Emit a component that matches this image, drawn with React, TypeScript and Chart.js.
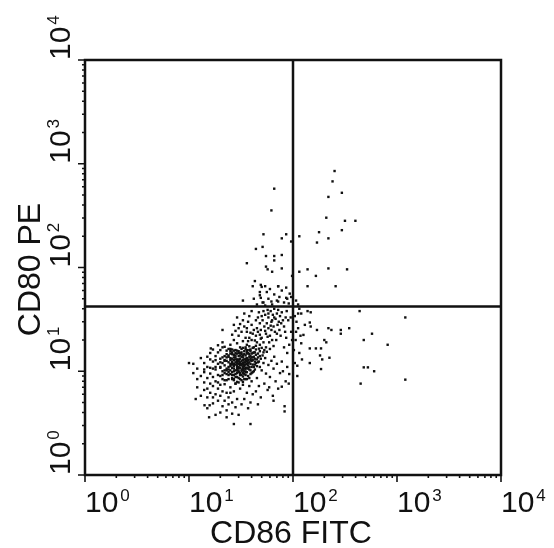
import React, { useEffect, useRef } from "react";
import { Chart, registerables } from "chart.js";

Chart.register(...registerables);

// ---- axis definition ----
const decadeExponents = [0, 1, 2, 3, 4];
const minorSteps = [2, 3, 4, 5, 6, 7, 8, 9];
const axisMin = 1;
const axisMax = 10000;
const xTitle = "CD86 FITC";
const yTitle = "CD80 PE";

// quadrant gate thresholds (CD86, CD80)
const gateCD86 = 100;
const gateCD80 = 42;

// ---- events [CD86 FITC, CD80 PE] ----
const upperLeftEvents: [number, number][] = [
  [66, 575], [62, 355], [96, 178], [86, 209], [78, 191], [52, 209], [51, 158], [44, 151],
  [36, 110], [55, 129], [66, 129], [78, 132], [66, 117], [55, 102], [57, 96], [63, 91],
  [78, 98], [98, 83], [43, 74], [41, 66], [49, 68], [54, 66], [48, 58], [72, 66],
  [33, 48], [49, 51], [51, 46], [62, 47], [72, 47], [86, 51], [96, 52], [45, 44],
  [52, 46], [58, 50], [63, 44], [70, 48], [48, 54], [56, 58], [66, 55], [74, 52],
  [82, 46], [88, 50], [93, 56], [60, 62], [50, 65], [78, 60], [42, 50], [86, 64],
  [72, 66], [54, 43], [91, 45],
];

const upperRightEvents: [number, number][] = [
  [251, 851], [240, 676], [295, 525], [219, 479], [209, 302], [316, 282], [398, 282],
  [295, 229], [178, 219], [219, 191], [170, 174], [115, 200], [115, 91], [138, 96],
  [166, 83], [219, 98], [331, 96], [138, 66], [257, 66], [107, 48], [112, 44],
];

const lowerRightEvents: [number, number][] = [
  [115, 40], [138, 38], [148, 37], [437, 38], [1202, 33], [112, 36], [120, 36], [145, 29.5],
  [148, 27], [170, 25], [219, 26], [234, 25], [288, 25], [288, 23], [347, 26], [479, 20],
  [575, 23], [813, 18], [126, 22.4], [120, 18.6], [200, 20], [209, 19], [145, 16.6],
  [166, 16.6], [186, 16.6], [182, 14.2], [191, 13], [224, 13.5], [186, 10.5], [145, 12],
  [110, 11.3], [479, 10.9], [525, 10.9], [603, 10], [1202, 8.3], [447, 7.6], [104, 34],
  [108, 30], [112, 26], [118, 22], [106, 20], [115, 15], [122, 13], [104, 12], [110, 9],
  [130, 28], [102, 16], [107, 24],
];

const lowerLeftSparse: [number, number][] = [
  [91, 7.6], [78, 7.1], [83, 4.6], [83, 4.1], [65, 5.2], [39, 3.1], [27, 3.1], [15.6, 3.6],
  [11.6, 5.4], [14.1, 4.7], [15.8, 4.7], [10, 12], [21, 25], [16.2, 16.6],
  [92, 18], [96, 24], [88, 15], [95, 33], [98, 20], [82, 17], [86, 21],
];

const lowerLeftCore: [number, number][] = [
  [31, 11.5], [29, 11], [33, 12], [30, 12.4], [27, 10.6], [34, 11.2], [32, 10.4], [28, 12.2],
  [35, 12.8], [30, 10], [26, 11.6], [29, 13], [33, 13.6], [36, 11.8], [31, 9.6], [25, 10.2],
  [37, 13], [28, 9.4], [34, 10], [30, 14], [24, 11], [38, 12.2], [32, 14.6], [27, 12.8],
  [35, 9.2], [29, 8.8], [39, 14], [26, 9.8], [33, 8.9], [36, 14.8], [23, 10.6], [40, 12.6],
  [31, 13.2], [28, 11.6], [34, 13], [30, 11], [32, 12.6], [26, 12.4], [37, 10.6], [29, 10.2],
  [35, 14.2], [24, 12.2], [41, 13.6], [27, 9.2], [33, 11], [38, 11], [30, 8.6], [25, 13.4],
  [36, 9.8], [31, 15], [42, 15.2], [28, 14.2], [34, 15.6], [23, 9.4], [39, 10.2], [32, 9.2],
  [26, 14.6], [44, 14.4], [29, 12], [33, 12.8], [35, 11.6], [27, 11.2], [31, 10.8], [37, 12],
  [30, 13], [28, 10.2], [34, 12.2], [32, 11.4], [36, 13.4], [25, 11.8], [40, 11], [29, 14.8],
  [43, 12.4], [22, 11.4], [33, 10.2], [38, 13.8], [27, 13.6], [35, 10.4], [30, 9.8], [31, 12.2],
  [45, 13], [24, 9.8], [36, 12.6], [28, 13], [32, 13.8], [26, 10.8], [39, 12.8], [34, 11.6],
  [29, 9.6], [37, 15], [30, 11.8], [33, 14.2], [27, 10], [35, 13.2], [41, 11.6], [25, 12.8],
  [31, 14.2], [38, 10.4], [28, 8.8], [34, 9.4], [42, 13.8], [23, 12.6], [36, 10.8], [30, 12.8],
  [32, 10], [29, 11.4], [26, 13.2], [40, 14.8], [33, 9.6], [35, 12.2],
];

const lowerLeftCoreRing: [number, number][] = [
  [21, 9.2], [23, 8.2], [25, 14.8], [27, 15.8], [24, 13.8], [22, 12.6], [20, 12.2], [26, 8.4],
  [28, 7.6], [30, 7.8], [32, 8.2], [34, 8.4], [37, 9], [39, 9.4], [41, 9.8], [43, 10.4],
  [45, 11.2], [47, 12.4], [49, 13.2], [46, 14.8], [44, 16.2], [41, 16.8], [38, 17.4], [35, 17],
  [32, 16.4], [29, 15.8], [26, 16.2], [23, 14.6], [21, 13.6], [22, 10.2], [24, 9.2], [27, 8.4],
  [29, 7.9], [31, 8.4], [33, 7.9], [36, 8.4], [38, 8.6], [40, 9.6], [42, 11], [44, 12],
  [46, 13.6], [48, 15.6], [50, 16.8], [52, 15.2], [39, 16.2], [36, 16], [33, 16.8], [30, 15.6],
  [28, 15], [25, 15.6], [27, 14.4], [24, 10.4], [26, 9.2], [29, 10.6], [31, 9.2], [33, 10.6],
  [35, 9.8], [37, 11.4], [39, 11.8], [41, 12.8], [43, 13.2], [40, 13.6], [38, 14.6], [36, 15.4],
  [34, 14.6], [32, 15.2], [30, 15], [28, 13.6], [26, 12], [25, 11.2], [27, 11.8], [29, 12.6],
  [31, 11.8], [33, 11.6], [35, 10.8], [37, 12.8], [39, 13.2], [34, 10.6], [32, 11.8], [30, 10.6],
];

const lowerLeftBand: [number, number][] = [
  [38, 16], [42, 17], [36, 18], [45, 19], [40, 20], [48, 18], [44, 22], [39, 15.6],
  [50, 21], [46, 24], [52, 19], [41, 23], [55, 23], [47, 16.5], [58, 26], [43, 19.8],
  [53, 27], [49, 25], [60, 22], [56, 29], [62, 30], [45, 26], [51, 31], [65, 27],
  [58, 33], [48, 29], [64, 35], [54, 35], [68, 32], [61, 38], [70, 36], [57, 39],
  [66, 40], [73, 30], [50, 34], [47, 37], [62, 25], [75, 34], [44, 31], [59, 19],
  [67, 24], [71, 28], [53, 16], [78, 37], [63, 20], [80, 31], [38, 21], [42, 25],
  [40, 28], [36, 24], [46, 33], [55, 17], [60, 16.4], [69, 20], [74, 25], [82, 27],
  [76, 22], [85, 33], [52, 38], [65, 17.5], [57, 21.5], [49, 20.6], [43, 15.2], [37, 19.5],
  [41, 15], [54, 24.5], [61, 27.5], [66, 33], [72, 39], [58, 36], [48, 22.5], [44, 17.6],
  [39, 23.5], [35, 21], [63, 31], [70, 23], [77, 29], [87, 38], [90, 31], [84, 24],
  [28, 16], [25, 18], [31, 17], [27, 20], [33, 19.5], [30, 22], [24, 16.4], [35, 16.4],
  [29, 18.6], [32, 24], [26, 22.5], [34, 27], [22, 17.2], [30, 26], [37, 30], [28, 24.5],
  [33, 31], [21, 19], [36, 26], [31, 28.5], [38, 34], [34, 36], [29, 33], [40, 38], [27, 28],
];

const lowerLeftTail: [number, number][] = [
  [20, 9], [18, 8], [22, 7.5], [16, 9.5], [24, 8.4], [19, 6.8], [21, 10], [17, 7.2],
  [23, 6.2], [15, 8.6], [25, 7], [20, 5.8], [18, 10.4], [14, 7.8], [22, 9.6], [26, 8.6],
  [19, 5.2], [16, 6.2], [24, 5.6], [21, 4.6], [13, 9], [17, 4.9], [23, 4.2], [15, 5.6],
  [20, 7.4], [27, 6.4], [12, 7], [18, 6], [26, 5], [14, 6.6], [22, 8.2], [16, 10.8],
  [25, 9.4], [19, 9.2], [21, 6.4], [13, 5.8], [17, 8.8], [24, 4.8], [28, 7.6], [15, 4.4],
  [20, 4], [23, 3.6], [18, 3.8], [12, 8.4], [26, 3.9], [22, 5.2], [14, 9.8], [27, 8.2],
  [19, 7.8], [16, 7.6], [25, 6.2], [11, 9.6], [21, 8.4], [17, 5.6], [29, 5.4], [23, 10.2],
  [20, 10.8], [15, 6.8], [28, 4.5], [30, 3.8],
  [42, 10], [48, 11], [45, 8.6], [52, 12], [40, 8], [55, 9.5], [47, 7.2], [50, 10.2],
  [58, 11.5], [44, 6.4], [60, 8.8], [53, 7.6], [65, 10.6], [46, 12.2], [57, 6.6], [62, 12.6],
  [41, 6], [68, 8], [49, 5.6], [70, 11.8], [54, 13.4], [43, 11.6], [75, 9.6], [59, 7],
  [64, 5.8], [38, 7.2], [36, 6.2], [33, 7.4], [34, 5.4], [39, 5], [31, 6.8], [37, 4.4],
  [32, 4.8], [35, 8.4], [46, 4.8], [72, 6.8], [80, 10], [85, 8], [78, 12.4], [88, 11],
  [92, 9.4], [66, 13.8], [51, 14.2], [56, 15.4], [48, 14],
  [19, 11.8], [17, 12.4], [20, 13.2], [15, 11], [18, 14], [16, 13], [21, 12], [14, 12],
  [19, 15.2], [12, 10.6], [17, 10.6], [20, 16], [13, 13.4], [22, 14], [16, 15], [18, 11],
  [11, 11.8], [21, 17], [15, 13.8], [23, 15.8], [19, 17.8], [14, 10.4], [24, 14.2], [17, 16.2],
  [22, 12.8], [25, 16.4], [26, 15.2], [20, 11], [18, 12.8], [23, 13.6],
];

const FONT = '"Liberation Sans", Arial, Helvetica, sans-serif';
const INK = "#111111";

function drawPower(ctx: CanvasRenderingContext2D, exp: number) {
  ctx.font = `30px ${FONT}`;
  ctx.textAlign = "left";
  ctx.textBaseline = "alphabetic";
  ctx.fillText("10", 0, 0);
  const w = ctx.measureText("10").width;
  ctx.font = `17px ${FONT}`;
  ctx.fillText(String(exp), w + 2, -11);
}

const flowAxesPlugin = {
  id: "flowAxes",
  afterDatasetsDraw(chart: any) {
    const { ctx, chartArea: a, scales } = chart;
    const x = scales.x;
    const y = scales.y;
    ctx.save();
    ctx.strokeStyle = INK;
    ctx.fillStyle = INK;

    // quadrant gates
    ctx.lineWidth = 2.5;
    const gx = x.getPixelForValue(gateCD86);
    const gy = y.getPixelForValue(gateCD80);
    ctx.beginPath();
    ctx.moveTo(gx, a.top);
    ctx.lineTo(gx, a.bottom);
    ctx.moveTo(a.left, gy);
    ctx.lineTo(a.right, gy);
    ctx.stroke();

    // frame
    ctx.strokeRect(a.left, a.top, a.right - a.left, a.bottom - a.top);

    // ticks
    ctx.lineWidth = 1.6;
    ctx.beginPath();
    decadeExponents.forEach((e) => {
      const v = Math.pow(10, e);
      const px = x.getPixelForValue(v);
      const py = y.getPixelForValue(v);
      ctx.moveTo(px, a.bottom);
      ctx.lineTo(px, a.bottom + 7);
      ctx.moveTo(a.left, py);
      ctx.lineTo(a.left - 7, py);
      if (v < axisMax) {
        minorSteps.forEach((m) => {
          const mx = x.getPixelForValue(v * m);
          const my = y.getPixelForValue(v * m);
          ctx.moveTo(mx, a.bottom);
          ctx.lineTo(mx, a.bottom + 3);
          ctx.moveTo(a.left, my);
          ctx.lineTo(a.left - 3, my);
        });
      }
    });
    ctx.stroke();

    // tick labels
    decadeExponents.forEach((e) => {
      const v = Math.pow(10, e);
      ctx.save();
      ctx.translate(x.getPixelForValue(v), a.bottom + 37);
      drawPower(ctx, e);
      ctx.restore();
      ctx.save();
      ctx.translate(a.left - 15, y.getPixelForValue(v));
      ctx.rotate(-Math.PI / 2);
      drawPower(ctx, e);
      ctx.restore();
    });

    // axis titles
    ctx.font = `32px ${FONT}`;
    ctx.textAlign = "center";
    ctx.textBaseline = "alphabetic";
    ctx.fillText(xTitle, (a.left + a.right) / 2 - 2, a.bottom + 68);
    ctx.save();
    ctx.translate(a.left - 45, (a.top + a.bottom) / 2 + 2);
    ctx.rotate(-Math.PI / 2);
    ctx.fillText(yTitle, 0, 0);
    ctx.restore();

    ctx.restore();
  },
};

const dotStyle = {
  pointStyle: "rect" as const,
  pointRadius: 1.7,
  pointHoverRadius: 1.7,
  backgroundColor: INK,
  borderWidth: 0,
  showLine: false,
};

const toPoints = (arr: [number, number][]) => arr.map(([cx, cy]) => ({ x: cx, y: cy }));

export default function App() {
  const canvasRef = useRef<HTMLCanvasElement | null>(null);

  useEffect(() => {
    if (!canvasRef.current) return;
    const chart = new Chart(canvasRef.current, {
      type: "scatter",
      data: {
        datasets: [
          { label: "LL core", data: toPoints(lowerLeftCore), ...dotStyle },
          { label: "LL core ring", data: toPoints(lowerLeftCoreRing), ...dotStyle },
          { label: "LL band", data: toPoints(lowerLeftBand), ...dotStyle },
          { label: "LL tail", data: toPoints(lowerLeftTail), ...dotStyle },
          { label: "LL sparse", data: toPoints(lowerLeftSparse), ...dotStyle },
          { label: "UL", data: toPoints(upperLeftEvents), ...dotStyle },
          { label: "UR", data: toPoints(upperRightEvents), ...dotStyle },
          { label: "LR", data: toPoints(lowerRightEvents), ...dotStyle },
        ],
      },
      options: {
        responsive: false,
        animation: false,
        layout: { padding: { left: 85, top: 60, right: 53, bottom: 73 } },
        plugins: { legend: { display: false }, tooltip: { enabled: false } },
        scales: {
          x: { type: "logarithmic", min: axisMin, max: axisMax, display: false },
          y: { type: "logarithmic", min: axisMin, max: axisMax, display: false },
        },
      },
      plugins: [flowAxesPlugin],
    });
    return () => chart.destroy();
  }, []);

  return (
    <div style={{ position: "fixed", left: 0, top: 0, width: 554, height: 548, background: "#fff" }}>
      <canvas ref={canvasRef} width={554} height={548} style={{ display: "block" }} />
    </div>
  );
}
